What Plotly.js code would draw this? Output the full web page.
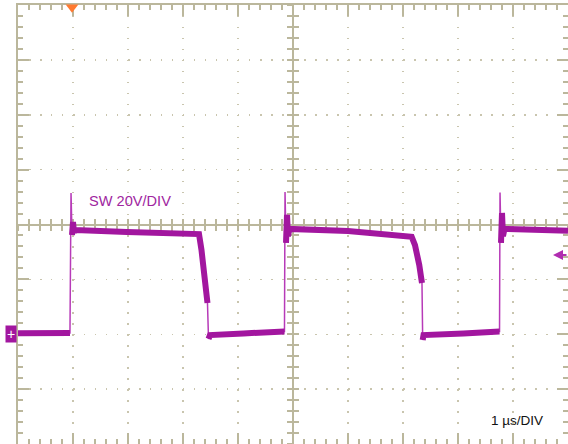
<!DOCTYPE html>
<html>
<head>
<meta charset="utf-8">
<script src="https://cdn.plot.ly/plotly-3.0.1.min.js"></script>
<style>html,body{margin:0;padding:0;background:#fff;}#chart{width:568px;height:444px;}</style>
</head>
<body>
<div id="chart"></div>
<script>
// SW node waveform: time in microseconds, voltage in volts (20 V/div, 1 us/div)
const t_us = [0.00, 0.945, 0.964, 0.982, 1.000, 1.018, 1.045, 1.98, 3.291, 3.336, 3.382, 3.418, 3.445, 3.464, 3.491, 4.10, 4.845,
              4.855, 4.873, 4.891, 4.909, 4.936, 6.00, 7.158, 7.218, 7.260, 7.296, 7.327, 7.345, 7.358, 7.373, 8.10, 8.755,
              8.764, 8.782, 8.800, 8.818, 8.845, 10.00];
const sw_v = [0.4, 0.5, 51.5, 36.2, 40.9, 37.3, 38.0, 37.3, 36.5, 30.7, 22.7, 15.4, 11.4, -1.7, -0.3, 0.3, 1.0,
              51.8, 33.3, 43.5, 35.8, 38.4, 37.6, 35.5, 32.5, 29.6, 25.2, 21.0, 18.7, -2.1, -0.3, 0.3, 1.0,
              51.7, 33.3, 44.2, 35.8, 38.4, 37.7];
// indices of segments that are fast edges (drawn thin)
const fastEdges = [1, 2, 12, 16, 17, 28, 32, 33];
const trig_t = [0.982];
const trig_level_v = 28.9;
const chLabel = "SW 20V/DIV";
const tbLabel = "1 \u00b5s/DIV";

const magenta = '#a2169f';
const gridCol = '#c9c5ae';
const lineCol = '#bbb79c';

// thick (noisy band) portions
const bx = [], by = [];
for (let i = 0; i < t_us.length - 1; i++) {
  if (fastEdges.includes(i)) {
    if (bx.length && bx[bx.length - 1] !== null) { bx.push(null); by.push(null); }
    continue;
  }
  if (!bx.length || bx[bx.length - 1] !== t_us[i]) { bx.push(t_us[i]); by.push(sw_v[i]); }
  bx.push(t_us[i + 1]); by.push(sw_v[i + 1]);
}

const traces = [
  {x: t_us, y: sw_v, mode: 'lines', line: {color: '#b73ab8', width: 1.5}, hoverinfo: 'skip', showlegend: false},
  {x: bx, y: by, mode: 'lines', line: {color: magenta, width: 6}, connectgaps: false, hoverinfo: 'skip', showlegend: false},
  {x: trig_t, y: [119.2], mode: 'markers', marker: {symbol: 'triangle-down', size: 11, color: '#ff7a30'},
   cliponaxis: false, hoverinfo: 'skip', showlegend: false},
  {x: [null], y: [null], xaxis: 'x2', yaxis: 'y2', hoverinfo: 'skip', showlegend: false},
  {x: [null], y: [null], xaxis: 'x3', yaxis: 'y3', hoverinfo: 'skip', showlegend: false}
];

function frameX(extra) {
  return Object.assign({
    range: [0, 10], dtick: 1, tick0: 0, showticklabels: false, zeroline: false,
    showline: true, linecolor: lineCol, linewidth: 2,
    tickcolor: lineCol, tickwidth: 2, fixedrange: true, layer: 'below traces'
  }, extra);
}
function frameY(extra) {
  return Object.assign({
    range: [-40, 120], dtick: 20, tick0: 0, showticklabels: false, zeroline: false,
    showline: true, linecolor: lineCol, linewidth: 2,
    tickcolor: lineCol, tickwidth: 2, fixedrange: true, layer: 'below traces'
  }, extra);
}

const layout = {
  width: 568, height: 444,
  margin: {l: 18, r: 0, t: 5, b: 0, pad: 0},
  paper_bgcolor: '#ffffff', plot_bgcolor: '#ffffff',
  showlegend: false, hovermode: false,
  xaxis: frameX({mirror: 'ticks', ticks: 'inside', ticklen: 11,
    showgrid: true, gridcolor: gridCol, gridwidth: 1.5, griddash: '1.5px,9.475px',
    minor: {dtick: 0.2, ticks: 'inside', ticklen: 5, tickwidth: 2, tickcolor: lineCol, showgrid: false}}),
  yaxis: frameY({mirror: 'ticks', ticks: 'inside', ticklen: 11,
    showgrid: true, gridcolor: gridCol, gridwidth: 1.5, griddash: '1.5px,9.5px',
    minor: {dtick: 4, ticks: 'inside', ticklen: 5, tickwidth: 2, tickcolor: lineCol, showgrid: false}}),
  xaxis2: frameX({overlaying: 'x', anchor: 'free', position: 0.5, ticks: 'outside', ticklen: 5, showgrid: false,
    minor: {dtick: 0.2, ticks: 'outside', ticklen: 5, tickwidth: 2, tickcolor: lineCol, showgrid: false}}),
  xaxis3: frameX({overlaying: 'x', anchor: 'free', position: 0.5, ticks: 'inside', ticklen: 5, showgrid: false,
    minor: {dtick: 0.2, ticks: 'inside', ticklen: 5, tickwidth: 2, tickcolor: lineCol, showgrid: false}}),
  yaxis2: frameY({overlaying: 'y', anchor: 'free', position: 0.5, ticks: 'outside', ticklen: 5, showgrid: false,
    minor: {dtick: 4, ticks: 'outside', ticklen: 5, tickwidth: 2, tickcolor: lineCol, showgrid: false}}),
  yaxis3: frameY({overlaying: 'y', anchor: 'free', position: 0.5, ticks: 'inside', ticklen: 5, showgrid: false,
    minor: {dtick: 4, ticks: 'inside', ticklen: 5, tickwidth: 2, tickcolor: lineCol, showgrid: false}}),
  annotations: [
    {xref: 'x', yref: 'y', x: 1.255, y: 48.4, xanchor: 'left', yanchor: 'middle', showarrow: false,
     text: chLabel, font: {family: 'Liberation Sans, Arial, sans-serif', size: 14.6, color: '#a0269f'}},
    {xref: 'x', yref: 'y', x: 8.56, y: -31.4, xanchor: 'left', yanchor: 'middle', showarrow: false,
     text: tbLabel, font: {family: 'Liberation Sans, Arial, sans-serif', size: 13.5, color: '#111111'}},
    {xref: 'paper', yref: 'y', x: 0, y: 0, xanchor: 'right', yanchor: 'middle', xshift: -1, showarrow: false,
     text: '+', bgcolor: magenta, width: 9, height: 15, borderpad: 0.5,
     font: {family: 'Liberation Sans, Arial, sans-serif', size: 14, color: '#ffffff'}},
    {xref: 'x', yref: 'y', x: 9.727, y: trig_level_v, ax: 16, ay: 0, text: '', showarrow: true,
     arrowhead: 2, arrowsize: 1, arrowwidth: 2, arrowcolor: '#b02cb0', standoff: 0}
  ]
};

Plotly.newPlot('chart', traces, layout, {displayModeBar: false, staticPlot: true});
</script>
</body>
</html>
